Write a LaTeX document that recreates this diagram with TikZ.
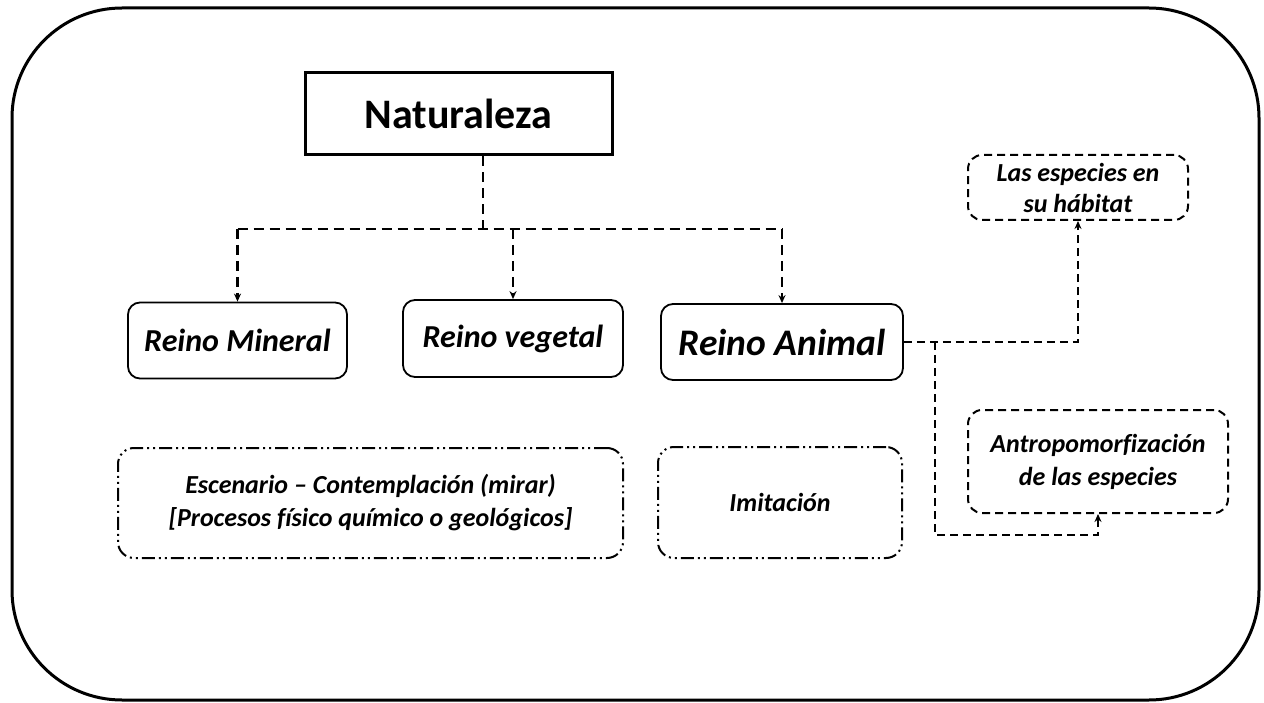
\documentclass[tikz,border=0pt]{standalone}
\usepackage{fontspec}
\setmainfont{Carlito}[Ligatures=NoCommon]
\usetikzlibrary{arrows.meta,calc}
\begin{document}
\begin{tikzpicture}[x=1pt,y=-1pt,
  frame/.style={draw,line width=3pt,rounded corners=110pt},
  natbox/.style={draw,line width=3pt,rectangle,inner sep=0pt,font=\fontsize{42}{46}\selectfont\bfseries},
  reino/.style={draw,line width=1.8pt,rounded corners=12pt,inner sep=0pt,font=\fontsize{32}{36}\selectfont\bfseries\itshape},
  dbox/.style={draw,line width=2pt,dash pattern=on 8pt off 5pt,rounded corners=14pt,inner sep=0pt,align=center,font=\fontsize{26}{31}\selectfont\bfseries\itshape},
  ddbox/.style={draw,line width=2pt,dash pattern=on 13pt off 4pt on 2pt off 4pt on 2pt off 4pt,rounded corners=16pt,inner sep=0pt,align=center,font=\fontsize{26}{33}\selectfont\bfseries\itshape},
  conn/.style={draw,line width=2.6pt,dash pattern=on 10pt off 6pt},
  conn2/.style={draw,line width=2pt,dash pattern=on 8pt off 5pt},
  tip/.style={-{Stealth[length=8pt,width=7pt]}}
]
\useasboundingbox (0,0) rectangle (1264,703);
\draw[frame] (12,8) rectangle (1259,700);

\node[natbox,minimum width=307pt,minimum height=82pt] (nat) at (458.5,114) {Naturaleza};
\node[reino,minimum width=219pt,minimum height=76pt] (min) at (237.5,340.5) {Reino Mineral};
\node[reino,minimum width=220pt,minimum height=77pt] (veg) at (513,338.5) {Reino vegetal};
\node[reino,minimum width=242pt,minimum height=76pt,font=\fontsize{37.5}{42}\selectfont\bfseries\itshape] (ani) at (782,342) {Reino Animal};
\node[dbox,minimum width=220pt,minimum height=65pt] (esp) at (1078,187.5) {Las especies en\\su hábitat};
\node[dbox,minimum width=260pt,minimum height=103pt,font=\fontsize{26}{33}\selectfont\bfseries\itshape] (ant) at (1098,461.5) {Antropomorfización\\de las especies};
\node[ddbox,minimum width=505pt,minimum height=110pt] (esc) at (370.5,503) {Escenario – Contemplación (mirar)\\{}[Procesos físico químico o geológicos]};
\node[ddbox,minimum width=244pt,minimum height=111pt] (imi) at (780,502.5) {Imitación};

\coordinate (j) at (483,229);
\draw[conn] (j |- nat.south) -- (j);
\draw[conn] (min.north |- j) -- (ani.north |- j);
\draw[conn,tip] (min.north |- j) -- (min.north);
\draw[conn,tip] (veg.north |- j) -- (veg.north);
\draw[conn,tip] (ani.north |- j) -- (ani.north);

\draw[conn2,tip] (ani.east) -| (esp.south);
\coordinate (br) at (935,342);
\coordinate (bl) at (935,535);
\draw[conn2,tip] (br) -- (bl) -| (ant.south);
\end{tikzpicture}
\end{document}
